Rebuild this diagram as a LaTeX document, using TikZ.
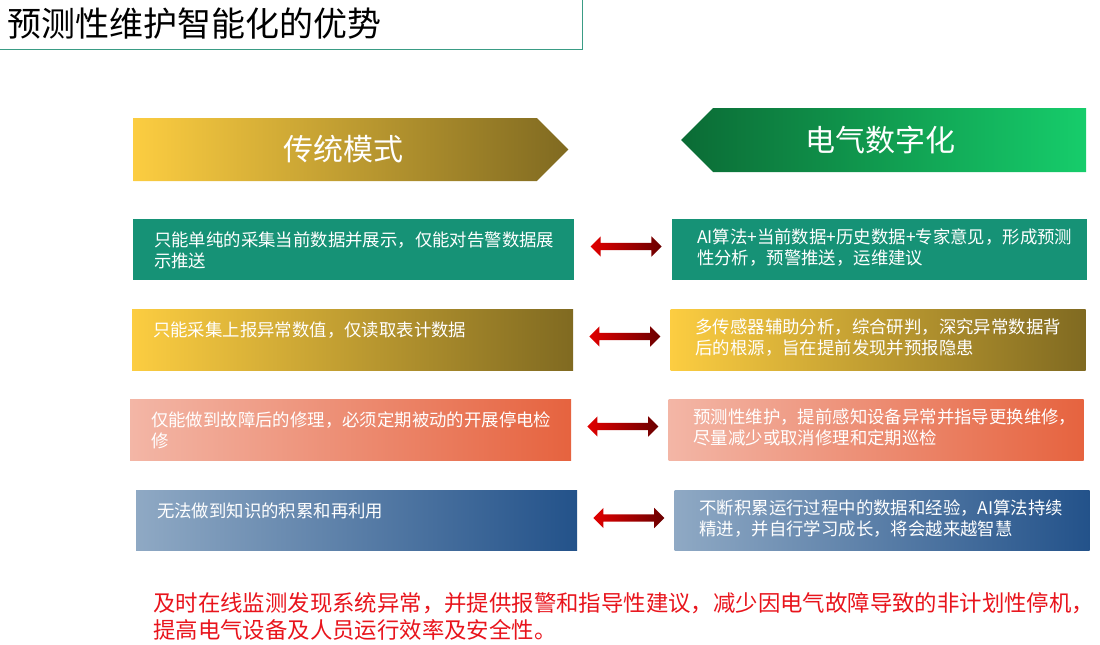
\documentclass[tikz,border=0pt]{standalone}
\usepackage{fontspec}
\setmainfont{Noto Sans CJK SC}
\usetikzlibrary{shapes.symbols,shapes.arrows,calc}

\definecolor{titleline}{HTML}{3A9C85}
\definecolor{tealbox}{HTML}{169276}
\definecolor{goldL}{HTML}{FCCD41}
\definecolor{goldR}{HTML}{806A21}
\definecolor{greenL}{HTML}{0B6B35}
\definecolor{greenR}{HTML}{16CD6B}
\definecolor{salmonL}{HTML}{F3B6A6}
\definecolor{salmonR}{HTML}{E6633F}
\definecolor{blueL}{HTML}{8FA9C4}
\definecolor{blueR}{HTML}{23528A}
\definecolor{arrowL}{HTML}{E10000}
\definecolor{arrowR}{HTML}{6B0000}
\definecolor{notered}{HTML}{E8141C}

\tikzstyle{hd}=[shape=signal,
                signal pointer angle=90,
                minimum height=63pt,
                inner sep=0pt,
                text=white,
                font=\fontsize{30}{34}\selectfont]
\tikzstyle{bx}=[shape=rectangle,
                minimum width=441pt,
                minimum height=61pt,
                inner sep=0pt]
\tikzstyle{bxr}=[bx,
                minimum width=415pt]
\tikzstyle{tx}=[anchor=north west,
                align=left,
                inner sep=0pt,
                text=white,
                font=\fontsize{17.4}{21}\selectfont]
\tikzstyle{da}=[shape=double arrow,
                double arrow head extend=6.5pt,
                minimum height=71pt,
                inner sep=3.5pt,
                left color=arrowL,
                right color=arrowR]

\begin{document}
\begin{tikzpicture}[x=1pt,y=-1pt]
\useasboundingbox (0,0) rectangle (1100,645);

% title
\node[draw=titleline, line width=1pt, anchor=south east, minimum height=52pt,
      text width=565pt, inner xsep=10pt, inner ysep=0pt, align=left,
      font=\fontsize{34}{38}\selectfont] (title) at (583,50) {预测性维护智能化的优势};

% column headers (text nudged off the body centre)
\node[hd, signal to=east, minimum width=435pt, left color=goldL, right color=goldR] (hl) at (335,149.5) {\hspace*{16pt}传统模式};
\node[hd, signal to=west, minimum width=405pt, minimum height=64pt, left color=greenL, right color=greenR] (hr) at (899.5,140) {电气数字化\hspace*{39pt}};

% traditional mode
\node[bx, fill=tealbox] (b1l) at (353.5,249.5) {};
\node[bx, left color=goldL, right color=goldR] (b2l) at (352.5,339.5) {};
\node[bx, left color=salmonL, right color=salmonR] (b3l) at (350.5,429.5) {};
\node[bx, minimum height=60pt, left color=blueL, right color=blueR] (b4l) at (356.5,520) {};

\node[tx] (t1l) at ($(b1l.north west)+(21,13)$) {只能单纯的采集当前数据并展示，仅能对告警数据展\\示推送};
\node[tx] (t2l) at ($(b2l.north west)+(21,13)$) {只能采集上报异常数值，仅读取表计数据};
\node[tx] (t3l) at ($(b3l.north west)+(21,13)$) {仅能做到故障后的修理，必须定期被动的开展停电检\\修};
\node[tx] (t4l) at ($(b4l.north west)+(21,13)$) {无法做到知识的积累和再利用};

% electrical digitalization
\node[bxr, fill=tealbox] (b1r) at (879.5,249.5) {};
\node[bxr, left color=goldL, right color=goldR] (b2r) at (878,339.5) {};
\node[bxr, left color=salmonL, right color=salmonR] (b3r) at (876,429.5) {};
\node[bxr, minimum height=60pt, left color=blueL, right color=blueR] (b4r) at (882,520) {};

\node[tx] (t1r) at ($(b1r.north west)+(25,10)$) {AI算法+当前数据+历史数据+专家意见，形成预测\\性分析，预警推送，运维建议};
\node[tx] (t2r) at ($(b2r.north west)+(25,10)$) {多传感器辅助分析，综合研判，深究异常数据背\\后的根源，旨在提前发现并预报隐患};
\node[tx] (t3r) at ($(b3r.north west)+(25,10)$) {预测性维护，提前感知设备异常并指导更换维修，\\尽量减少或取消修理和定期巡检};
\node[tx] (t4r) at ($(b4r.north west)+(25,10)$) {不断积累运行过程中的数据和经验，AI算法持续\\精进，并自行学习成长，将会越来越智慧};

% double arrows between the columns
\node[da] (a1) at ($(b1l.east)!0.5!(b1r.west)+(3,-3)$) {};
\node[da] (a2) at ($(b2l.east)!0.5!(b2r.west)+(3,-3)$) {};
\node[da] (a3) at ($(b3l.east)!0.5!(b3r.west)+(3,-3)$) {};
\node[da] (a4) at ($(b4l.east)!0.5!(b4r.west)+(3,-2)$) {};

% note
\node[anchor=north west, align=left, inner sep=0pt, text=notered,
      font=\fontsize{22.4}{27}\selectfont] (note) at (153,592)
      {及时在线监测发现系统异常，并提供报警和指导性建议，减少因电气故障导致的非计划性停机，\\提高电气设备及人员运行效率及安全性。};

\end{tikzpicture}
\end{document}
